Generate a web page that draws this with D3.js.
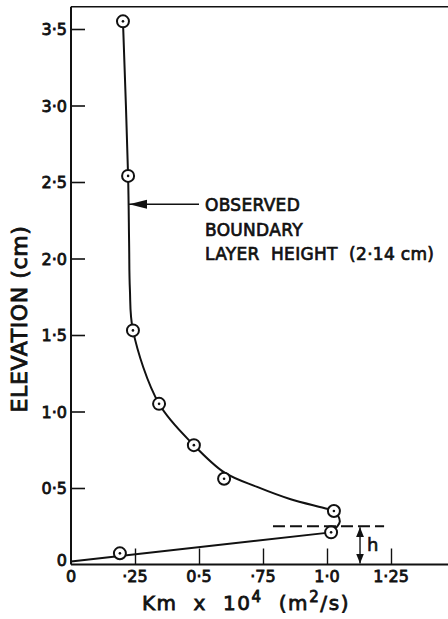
<!DOCTYPE html>
<html>
<head>
<meta charset="utf-8">
<script src="https://cdn.jsdelivr.net/npm/d3@7"></script>
<style>
  html, body { margin: 0; padding: 0; background: #fff; }
  svg { display: block; }
  text { font-family: "DejaVu Sans", sans-serif; fill: #111; }
</style>
</head>
<body>
<svg id="chart" width="448" height="619"></svg>
<script>
// ---- data ----
const xTicks = [0.25, 0.5, 0.75, 1.0, 1.25];
const xTickLabels = ["·25", "0·5", "·75", "1·0", "1·25"];
const yTicks = [0.5, 1.0, 1.5, 2.0, 2.5, 3.0, 3.5];
const yTickLabels = ["0·5", "1·0", "1·5", "2·0", "2·5", "3·0", "3·5"];

// observed points (Km x 10^4, elevation cm)
const obsKm   = [0.203, 0.223, 0.242, 0.344, 0.480, 0.598, 1.027, 1.016, 0.191];
const obsElev = [3.55,  2.54,  1.53,  1.05,  0.78,  0.56,  0.35,  0.21,  0.073];

// faired profile above h
const profileKm   = [0.203, 0.223, 0.227, 0.230, 0.242, 0.344, 0.480, 0.600, 0.727, 0.855, 0.988, 1.027, 1.050, 1.016];
const profileElev = [3.55,  2.54,  2.10,  1.80,  1.53,  1.05,  0.78,  0.600, 0.507, 0.428, 0.369, 0.35,  0.28,  0.21];

// straight line below h
const lowerKm   = [0, 1.016];
const lowerElev = [0.02, 0.21];

const boundaryArrowElev = 2.355;
const boundaryArrowKm = [0.223, 0.50];
const hElev = 0.25;
const hDashKm = [0.789, 1.223];
const hArrowKm = 1.129;

// ---- scales ----
const svg = d3.select("#chart");
const x = d3.scaleLinear().domain([0, 1.25]).range([71, 391]);
const y = d3.scaleLinear().domain([0, 3.5]).range([564.5, 29]);
const xMax = 1.475, yMax = 3.645;

const ink = "#111";

// frame: left, bottom, top
svg.append("line").attr("x1", x(0)).attr("x2", x(0)).attr("y1", y(yMax)).attr("y2", y(0))
  .attr("stroke", ink).attr("stroke-width", 2);
svg.append("line").attr("x1", x(0)).attr("x2", x(xMax)).attr("y1", y(0)).attr("y2", y(0))
  .attr("stroke", ink).attr("stroke-width", 2);
svg.append("line").attr("x1", x(0)).attr("x2", x(xMax)).attr("y1", y(yMax)).attr("y2", y(yMax))
  .attr("stroke", ink).attr("stroke-width", 1.6);

// y ticks (inside)
const yAxis = d3.axisRight(y).tickValues(yTicks).tickSize(14).tickFormat("");
const gy = svg.append("g").attr("transform", `translate(${x(0)},0)`).call(yAxis);
gy.select(".domain").remove();
gy.selectAll("line").attr("stroke", ink).attr("stroke-width", 1.6);
svg.selectAll(".ylab").data(yTicks.concat([0])).enter().append("text")
  .attr("x", 67).attr("y", d => y(d) + 6 - (d === 0 ? 5 : 0))
  .attr("text-anchor", "end").attr("font-size", 16)
  .attr("stroke", ink).attr("stroke-width", 0.8)
  .text((d, i) => i < yTickLabels.length ? yTickLabels[i] : "0");

// x ticks (inside, upward)
const xAxis = d3.axisTop(x).tickValues(xTicks).tickSize(16).tickFormat("");
const gx = svg.append("g").attr("transform", `translate(0,${y(0)})`).call(xAxis);
gx.select(".domain").remove();
gx.selectAll("line").attr("stroke", ink).attr("stroke-width", 1.4);
svg.selectAll(".xlab").data([0].concat(xTicks)).enter().append("text")
  .attr("x", d => x(d)).attr("y", 582)
  .attr("text-anchor", "middle").attr("font-size", 16)
  .attr("stroke", ink).attr("stroke-width", 0.8)
  .text((d, i) => i === 0 ? "0" : xTickLabels[i - 1]);

// axis titles
svg.append("text")
  .attr("transform", `translate(27,319) rotate(-90)`)
  .attr("text-anchor", "middle").attr("font-size", 22)
  .attr("letter-spacing", 0.6)
  .attr("stroke", ink).attr("stroke-width", 0.9)
  .text("ELEVATION (cm)");

const xt = svg.append("text").attr("x", 246).attr("y", 610)
  .attr("text-anchor", "middle").attr("font-size", 20)
  .attr("letter-spacing", 1.6)
  .attr("stroke", ink).attr("stroke-width", 0.8);
xt.append("tspan").text("Km  x  10");
xt.append("tspan").attr("dy", -8).attr("font-size", 15).text("4");
xt.append("tspan").attr("dy", 8).text("  (m");
xt.append("tspan").attr("dy", -8).attr("font-size", 15).text("2");
xt.append("tspan").attr("dy", 8).text("/s)");
xt.style("white-space", "pre");

// profile curve
const line = d3.line().x(d => x(d[0])).y(d => y(d[1]));
svg.append("path")
  .datum(profileKm.map((k, i) => [k, profileElev[i]]))
  .attr("d", line.curve(d3.curveCatmullRom.alpha(0.5)))
  .attr("fill", "none").attr("stroke", ink).attr("stroke-width", 2);
const lowerLine = d3.line().x(d => x(d[0])).y(d => y(d[1]));
svg.append("path")
  .datum(lowerKm.map((k, i) => [k, lowerElev[i]]))
  .attr("d", lowerLine)
  .attr("fill", "none").attr("stroke", ink).attr("stroke-width", 2);

// observed points
const pts = svg.selectAll(".pt").data(obsKm.map((k, i) => [k, obsElev[i]])).enter().append("g")
  .attr("transform", d => `translate(${x(d[0])},${y(d[1])})`);
pts.append("circle").attr("r", 6).attr("fill", "#fff").attr("stroke", ink).attr("stroke-width", 2);
pts.append("circle").attr("r", 1.3).attr("fill", ink);

// markers
const defs = svg.append("defs");
defs.append("marker").attr("id", "ah").attr("viewBox", "0 0 10 10")
  .attr("refX", 10).attr("refY", 5).attr("markerWidth", 10).attr("markerHeight", 10)
  .attr("markerUnits", "userSpaceOnUse").attr("orient", "auto-start-reverse")
  .append("path").attr("d", "M0,1 L10,5 L0,9 Z").attr("fill", ink);
defs.append("marker").attr("id", "ahBig").attr("viewBox", "0 0 18 10")
  .attr("refX", 18).attr("refY", 5).attr("markerWidth", 18).attr("markerHeight", 10)
  .attr("markerUnits", "userSpaceOnUse").attr("orient", "auto")
  .append("path").attr("d", "M0,0.5 L18,5 L0,9.5 Z").attr("fill", ink);

// boundary layer arrow
svg.append("line")
  .attr("x1", x(boundaryArrowKm[1])).attr("x2", x(boundaryArrowKm[0]) + 1)
  .attr("y1", y(boundaryArrowElev)).attr("y2", y(boundaryArrowElev))
  .attr("stroke", ink).attr("stroke-width", 1.6).attr("marker-end", "url(#ahBig)");
const annLines = ["OBSERVED", "BOUNDARY", "LAYER  HEIGHT  (2·14 cm)"];
svg.selectAll(".ann").data(annLines).enter().append("text")
  .attr("x", 205).attr("y", (d, i) => y(boundaryArrowElev) + 7 + i * 24.5)
  .attr("font-size", 17).attr("letter-spacing", 0.3)
  .attr("stroke", ink).attr("stroke-width", 0.7)
  .style("white-space", "pre")
  .text(d => d);

// h dashed line and arrow
svg.append("line")
  .attr("x1", x(hDashKm[0])).attr("x2", x(hDashKm[1]))
  .attr("y1", y(hElev)).attr("y2", y(hElev))
  .attr("stroke", ink).attr("stroke-width", 2).attr("stroke-dasharray", "12,5");
svg.append("line")
  .attr("x1", x(hArrowKm)).attr("x2", x(hArrowKm))
  .attr("y1", y(hElev) + 1).attr("y2", y(0) - 1)
  .attr("stroke", ink).attr("stroke-width", 1.4)
  .attr("marker-start", "url(#ah)").attr("marker-end", "url(#ah)");
svg.append("text").attr("x", x(hArrowKm) + 7).attr("y", 551)
  .attr("font-size", 18).attr("stroke", ink).attr("stroke-width", 0.6).text("h");
</script>
</body>
</html>
